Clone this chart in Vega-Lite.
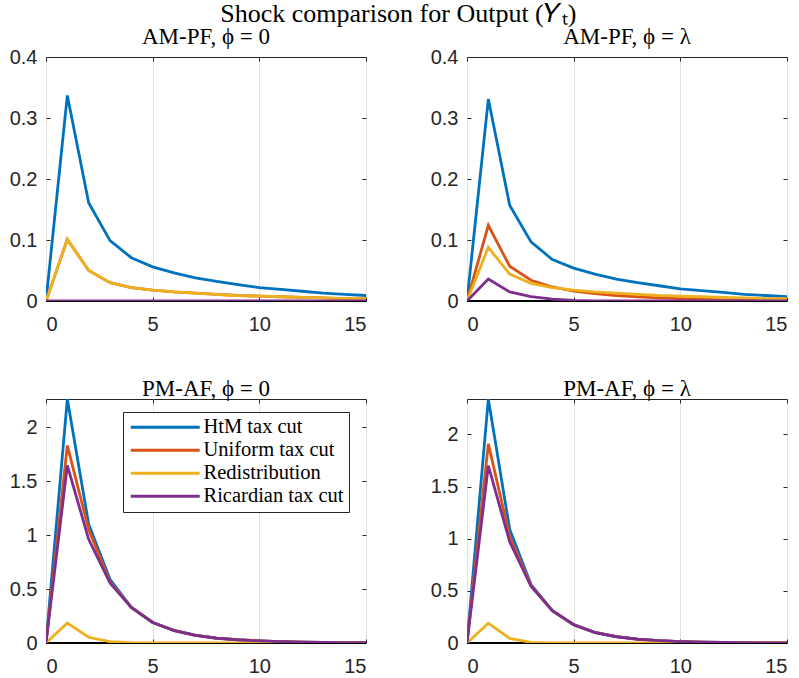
{
  "$schema": "https://vega.github.io/schema/vega-lite/v6.json",
  "background": "white",
  "padding": {"left": 8, "top": 0, "right": 0, "bottom": 0},
  "title": {"text": "Shock comparison for Output (𝑌ₜ)", "font": "Liberation Serif", "fontSize": 26, "fontWeight": "normal", "color": "#000000", "anchor": "middle", "offset": -1},
  "config": {
    "view": {"stroke": "#262626", "strokeWidth": 1},
    "axis": {"labelFont": "Liberation Sans", "labelFontSize": 20, "labelColor": "#262626", "domain": false, "ticks": true, "tickColor": "#262626", "tickSize": -4, "grid": true, "gridColor": "#e3e3e3", "gridWidth": 1, "title": null},
    "axisX": {"labelPadding": 17},
    "axisY": {"labelPadding": 13},
    "title": {"font": "Liberation Serif", "fontSize": 23, "fontWeight": "normal", "color": "#000000", "anchor": "middle", "offset": -2}
  },
  "datasets": {
    "d": [
      {"p":"A","t":0,"HtM tax cut":0,"Uniform tax cut":0,"Redistribution":0,"Ricardian tax cut":0},
      {"p":"A","t":1,"HtM tax cut":0.337,"Uniform tax cut":0.101,"Redistribution":0.101,"Ricardian tax cut":0},
      {"p":"A","t":2,"HtM tax cut":0.161,"Uniform tax cut":0.050,"Redistribution":0.050,"Ricardian tax cut":0},
      {"p":"A","t":3,"HtM tax cut":0.099,"Uniform tax cut":0.030,"Redistribution":0.030,"Ricardian tax cut":0},
      {"p":"A","t":4,"HtM tax cut":0.071,"Uniform tax cut":0.022,"Redistribution":0.022,"Ricardian tax cut":0},
      {"p":"A","t":5,"HtM tax cut":0.056,"Uniform tax cut":0.018,"Redistribution":0.018,"Ricardian tax cut":0},
      {"p":"A","t":6,"HtM tax cut":0.046,"Uniform tax cut":0.015,"Redistribution":0.015,"Ricardian tax cut":0},
      {"p":"A","t":7,"HtM tax cut":0.038,"Uniform tax cut":0.013,"Redistribution":0.013,"Ricardian tax cut":0},
      {"p":"A","t":8,"HtM tax cut":0.032,"Uniform tax cut":0.011,"Redistribution":0.011,"Ricardian tax cut":0},
      {"p":"A","t":9,"HtM tax cut":0.027,"Uniform tax cut":0.009,"Redistribution":0.009,"Ricardian tax cut":0},
      {"p":"A","t":10,"HtM tax cut":0.022,"Uniform tax cut":0.008,"Redistribution":0.008,"Ricardian tax cut":0},
      {"p":"A","t":11,"HtM tax cut":0.019,"Uniform tax cut":0.007,"Redistribution":0.007,"Ricardian tax cut":0},
      {"p":"A","t":12,"HtM tax cut":0.016,"Uniform tax cut":0.006,"Redistribution":0.006,"Ricardian tax cut":0},
      {"p":"A","t":13,"HtM tax cut":0.013,"Uniform tax cut":0.005,"Redistribution":0.005,"Ricardian tax cut":0},
      {"p":"A","t":14,"HtM tax cut":0.011,"Uniform tax cut":0.004,"Redistribution":0.004,"Ricardian tax cut":0},
      {"p":"A","t":15,"HtM tax cut":0.009,"Uniform tax cut":0.004,"Redistribution":0.004,"Ricardian tax cut":0},
      {"p":"B","t":0,"HtM tax cut":0,"Uniform tax cut":0,"Redistribution":0,"Ricardian tax cut":0},
      {"p":"B","t":1,"HtM tax cut":0.331,"Uniform tax cut":0.124,"Redistribution":0.088,"Ricardian tax cut":0.036},
      {"p":"B","t":2,"HtM tax cut":0.157,"Uniform tax cut":0.057,"Redistribution":0.044,"Ricardian tax cut":0.015},
      {"p":"B","t":3,"HtM tax cut":0.097,"Uniform tax cut":0.034,"Redistribution":0.029,"Ricardian tax cut":0.007},
      {"p":"B","t":4,"HtM tax cut":0.068,"Uniform tax cut":0.023,"Redistribution":0.022,"Ricardian tax cut":0.003},
      {"p":"B","t":5,"HtM tax cut":0.054,"Uniform tax cut":0.016,"Redistribution":0.018,"Ricardian tax cut":0.001},
      {"p":"B","t":6,"HtM tax cut":0.044,"Uniform tax cut":0.012,"Redistribution":0.015,"Ricardian tax cut":0},
      {"p":"B","t":7,"HtM tax cut":0.036,"Uniform tax cut":0.009,"Redistribution":0.013,"Ricardian tax cut":0},
      {"p":"B","t":8,"HtM tax cut":0.030,"Uniform tax cut":0.007,"Redistribution":0.011,"Ricardian tax cut":0},
      {"p":"B","t":9,"HtM tax cut":0.025,"Uniform tax cut":0.005,"Redistribution":0.009,"Ricardian tax cut":0},
      {"p":"B","t":10,"HtM tax cut":0.020,"Uniform tax cut":0.004,"Redistribution":0.008,"Ricardian tax cut":0},
      {"p":"B","t":11,"HtM tax cut":0.017,"Uniform tax cut":0.003,"Redistribution":0.007,"Ricardian tax cut":0},
      {"p":"B","t":12,"HtM tax cut":0.014,"Uniform tax cut":0.002,"Redistribution":0.006,"Ricardian tax cut":0},
      {"p":"B","t":13,"HtM tax cut":0.011,"Uniform tax cut":0.002,"Redistribution":0.005,"Ricardian tax cut":0},
      {"p":"B","t":14,"HtM tax cut":0.009,"Uniform tax cut":0.001,"Redistribution":0.004,"Ricardian tax cut":0},
      {"p":"B","t":15,"HtM tax cut":0.007,"Uniform tax cut":0.001,"Redistribution":0.004,"Ricardian tax cut":0},
      {"p":"C","t":0,"HtM tax cut":0,"Uniform tax cut":0,"Redistribution":0,"Ricardian tax cut":0},
      {"p":"C","t":1,"HtM tax cut":2.26,"Uniform tax cut":1.83,"Redistribution":0.185,"Ricardian tax cut":1.645},
      {"p":"C","t":2,"HtM tax cut":1.10,"Uniform tax cut":1.05,"Redistribution":0.053,"Ricardian tax cut":0.96},
      {"p":"C","t":3,"HtM tax cut":0.59,"Uniform tax cut":0.565,"Redistribution":0.012,"Ricardian tax cut":0.555},
      {"p":"C","t":4,"HtM tax cut":0.33,"Uniform tax cut":0.33,"Redistribution":0.003,"Ricardian tax cut":0.33},
      {"p":"C","t":5,"HtM tax cut":0.19,"Uniform tax cut":0.19,"Redistribution":0.001,"Ricardian tax cut":0.19},
      {"p":"C","t":6,"HtM tax cut":0.117,"Uniform tax cut":0.116,"Redistribution":0,"Ricardian tax cut":0.115},
      {"p":"C","t":7,"HtM tax cut":0.072,"Uniform tax cut":0.071,"Redistribution":0,"Ricardian tax cut":0.070},
      {"p":"C","t":8,"HtM tax cut":0.046,"Uniform tax cut":0.045,"Redistribution":0,"Ricardian tax cut":0.044},
      {"p":"C","t":9,"HtM tax cut":0.030,"Uniform tax cut":0.030,"Redistribution":0,"Ricardian tax cut":0.029},
      {"p":"C","t":10,"HtM tax cut":0.020,"Uniform tax cut":0.020,"Redistribution":0,"Ricardian tax cut":0.019},
      {"p":"C","t":11,"HtM tax cut":0.013,"Uniform tax cut":0.013,"Redistribution":0,"Ricardian tax cut":0.013},
      {"p":"C","t":12,"HtM tax cut":0.009,"Uniform tax cut":0.009,"Redistribution":0,"Ricardian tax cut":0.009},
      {"p":"C","t":13,"HtM tax cut":0.006,"Uniform tax cut":0.006,"Redistribution":0,"Ricardian tax cut":0.006},
      {"p":"C","t":14,"HtM tax cut":0.004,"Uniform tax cut":0.004,"Redistribution":0,"Ricardian tax cut":0.004},
      {"p":"C","t":15,"HtM tax cut":0.003,"Uniform tax cut":0.003,"Redistribution":0,"Ricardian tax cut":0.003},
      {"p":"D","t":0,"HtM tax cut":0,"Uniform tax cut":0,"Redistribution":0,"Ricardian tax cut":0},
      {"p":"D","t":1,"HtM tax cut":2.34,"Uniform tax cut":1.91,"Redistribution":0.19,"Ricardian tax cut":1.70},
      {"p":"D","t":2,"HtM tax cut":1.09,"Uniform tax cut":1.02,"Redistribution":0.045,"Ricardian tax cut":0.97},
      {"p":"D","t":3,"HtM tax cut":0.56,"Uniform tax cut":0.55,"Redistribution":0.006,"Ricardian tax cut":0.544},
      {"p":"D","t":4,"HtM tax cut":0.31,"Uniform tax cut":0.31,"Redistribution":0.001,"Ricardian tax cut":0.31},
      {"p":"D","t":5,"HtM tax cut":0.176,"Uniform tax cut":0.176,"Redistribution":0,"Ricardian tax cut":0.175},
      {"p":"D","t":6,"HtM tax cut":0.102,"Uniform tax cut":0.101,"Redistribution":0,"Ricardian tax cut":0.100},
      {"p":"D","t":7,"HtM tax cut":0.062,"Uniform tax cut":0.061,"Redistribution":0,"Ricardian tax cut":0.060},
      {"p":"D","t":8,"HtM tax cut":0.037,"Uniform tax cut":0.037,"Redistribution":0,"Ricardian tax cut":0.036},
      {"p":"D","t":9,"HtM tax cut":0.022,"Uniform tax cut":0.022,"Redistribution":0,"Ricardian tax cut":0.022},
      {"p":"D","t":10,"HtM tax cut":0.014,"Uniform tax cut":0.014,"Redistribution":0,"Ricardian tax cut":0.013},
      {"p":"D","t":11,"HtM tax cut":0.009,"Uniform tax cut":0.009,"Redistribution":0,"Ricardian tax cut":0.008},
      {"p":"D","t":12,"HtM tax cut":0.006,"Uniform tax cut":0.006,"Redistribution":0,"Ricardian tax cut":0.005},
      {"p":"D","t":13,"HtM tax cut":0.004,"Uniform tax cut":0.004,"Redistribution":0,"Ricardian tax cut":0.003},
      {"p":"D","t":14,"HtM tax cut":0.003,"Uniform tax cut":0.003,"Redistribution":0,"Ricardian tax cut":0.002},
      {"p":"D","t":15,"HtM tax cut":0.002,"Uniform tax cut":0.002,"Redistribution":0,"Ricardian tax cut":0.002}
    ]
  },
  "columns": 2,
  "spacing": {"row": 42, "column": 62},
  "resolve": {"scale": {"y": "independent", "color": "independent"}},
  "concat": [
    {
      "title": "AM-PF, ϕ = 0",
      "width": 320, "height": 244,
      "data": {"name": "d"},
      "transform": [{"filter": "datum.p === 'A'"}, {"fold": ["HtM tax cut", "Uniform tax cut", "Redistribution", "Ricardian tax cut"], "as": ["s", "v"]}],
      "resolve": {"axis": {"x": "independent", "y": "independent"}},
      "layer": [
        {"mark": {"type": "rule", "color": "#000000", "strokeWidth": 1}, "encoding": {"y": {"datum": 0, "type": "quantitative", "axis": null}}},
        {"mark": {"type": "line", "strokeWidth": 2.8, "clip": true},
         "encoding": {
           "x": {"field": "t", "type": "quantitative", "scale": {"domain": [0, 15], "nice": false}, "axis": {"values": [0, 5, 10, 15], "orient": "bottom"}},
           "y": {"field": "v", "type": "quantitative", "scale": {"domain": [0, 0.4], "nice": false}, "axis": {"values": [0, 0.1, 0.2, 0.3, 0.4], "format": "~g", "orient": "left"}},
           "color": {"field": "s", "type": "nominal", "scale": {"domain": ["HtM tax cut", "Uniform tax cut", "Redistribution", "Ricardian tax cut"], "range": ["#0072BD", "#D95319", "#EDB120", "#7E2F8E"]}, "legend": null}
         }},
        {"mark": {"type": "line", "opacity": 0},
         "encoding": {
           "x": {"field": "t", "type": "quantitative", "scale": {"domain": [0, 15], "nice": false}, "axis": {"values": [0, 5, 10, 15], "orient": "top", "labels": false, "grid": false, "minExtent": 0}},
           "y": {"field": "v", "type": "quantitative", "scale": {"domain": [0, 0.4], "nice": false}, "axis": {"values": [0, 0.1, 0.2, 0.3, 0.4], "orient": "right", "labels": false, "grid": false, "minExtent": 0}}
         }}
      ]
    },
    {
      "title": "AM-PF, ϕ = λ",
      "width": 320, "height": 244,
      "data": {"name": "d"},
      "transform": [{"filter": "datum.p === 'B'"}, {"fold": ["HtM tax cut", "Uniform tax cut", "Redistribution", "Ricardian tax cut"], "as": ["s", "v"]}],
      "resolve": {"axis": {"x": "independent", "y": "independent"}},
      "layer": [
        {"mark": {"type": "rule", "color": "#000000", "strokeWidth": 1}, "encoding": {"y": {"datum": 0, "type": "quantitative", "axis": null}}},
        {"mark": {"type": "line", "strokeWidth": 2.8, "clip": true},
         "encoding": {
           "x": {"field": "t", "type": "quantitative", "scale": {"domain": [0, 15], "nice": false}, "axis": {"values": [0, 5, 10, 15], "orient": "bottom"}},
           "y": {"field": "v", "type": "quantitative", "scale": {"domain": [0, 0.4], "nice": false}, "axis": {"values": [0, 0.1, 0.2, 0.3, 0.4], "format": "~g", "orient": "left"}},
           "color": {"field": "s", "type": "nominal", "scale": {"domain": ["HtM tax cut", "Uniform tax cut", "Redistribution", "Ricardian tax cut"], "range": ["#0072BD", "#D95319", "#EDB120", "#7E2F8E"]}, "legend": null}
         }},
        {"mark": {"type": "line", "opacity": 0},
         "encoding": {
           "x": {"field": "t", "type": "quantitative", "scale": {"domain": [0, 15], "nice": false}, "axis": {"values": [0, 5, 10, 15], "orient": "top", "labels": false, "grid": false, "minExtent": 0}},
           "y": {"field": "v", "type": "quantitative", "scale": {"domain": [0, 0.4], "nice": false}, "axis": {"values": [0, 0.1, 0.2, 0.3, 0.4], "orient": "right", "labels": false, "grid": false, "minExtent": 0}}
         }}
      ]
    },
    {
      "title": "PM-AF, ϕ = 0",
      "width": 320, "height": 244,
      "data": {"name": "d"},
      "transform": [{"filter": "datum.p === 'C'"}, {"fold": ["HtM tax cut", "Uniform tax cut", "Redistribution", "Ricardian tax cut"], "as": ["s", "v"]}],
      "resolve": {"axis": {"x": "independent", "y": "independent"}},
      "layer": [
        {"mark": {"type": "rule", "color": "#000000", "strokeWidth": 1}, "encoding": {"y": {"datum": 0, "type": "quantitative", "axis": null}}},
        {"mark": {"type": "line", "strokeWidth": 2.8, "clip": true},
         "encoding": {
           "x": {"field": "t", "type": "quantitative", "scale": {"domain": [0, 15], "nice": false}, "axis": {"values": [0, 5, 10, 15], "orient": "bottom"}},
           "y": {"field": "v", "type": "quantitative", "scale": {"domain": [0, 2.26], "nice": false}, "axis": {"values": [0, 0.5, 1, 1.5, 2], "format": "~g", "orient": "left"}},
           "color": {"field": "s", "type": "nominal", "scale": {"domain": ["HtM tax cut", "Uniform tax cut", "Redistribution", "Ricardian tax cut"], "range": ["#0072BD", "#D95319", "#EDB120", "#7E2F8E"]},
             "legend": {"orient": "none", "legendX": 77, "legendY": 13, "title": null, "symbolType": "M-5,0H5", "symbolSize": 190, "symbolStrokeWidth": 3, "symbolOffset": 27, "labelOffset": 28, "labelFont": "Liberation Serif", "labelFontSize": 20.5, "labelColor": "#000000", "strokeColor": "#262626", "fillColor": "#ffffff", "padding": 5, "rowPadding": 2}}
         }},
        {"mark": {"type": "line", "opacity": 0},
         "encoding": {
           "x": {"field": "t", "type": "quantitative", "scale": {"domain": [0, 15], "nice": false}, "axis": {"values": [0, 5, 10, 15], "orient": "top", "labels": false, "grid": false, "minExtent": 0}},
           "y": {"field": "v", "type": "quantitative", "scale": {"domain": [0, 2.26], "nice": false}, "axis": {"values": [0, 0.5, 1, 1.5, 2], "orient": "right", "labels": false, "grid": false, "minExtent": 0}}
         }}
      ]
    },
    {
      "title": "PM-AF, ϕ = λ",
      "width": 320, "height": 244,
      "data": {"name": "d"},
      "transform": [{"filter": "datum.p === 'D'"}, {"fold": ["HtM tax cut", "Uniform tax cut", "Redistribution", "Ricardian tax cut"], "as": ["s", "v"]}],
      "resolve": {"axis": {"x": "independent", "y": "independent"}},
      "layer": [
        {"mark": {"type": "rule", "color": "#000000", "strokeWidth": 1}, "encoding": {"y": {"datum": 0, "type": "quantitative", "axis": null}}},
        {"mark": {"type": "line", "strokeWidth": 2.8, "clip": true},
         "encoding": {
           "x": {"field": "t", "type": "quantitative", "scale": {"domain": [0, 15], "nice": false}, "axis": {"values": [0, 5, 10, 15], "orient": "bottom"}},
           "y": {"field": "v", "type": "quantitative", "scale": {"domain": [0, 2.34], "nice": false}, "axis": {"values": [0, 0.5, 1, 1.5, 2], "format": "~g", "orient": "left"}},
           "color": {"field": "s", "type": "nominal", "scale": {"domain": ["HtM tax cut", "Uniform tax cut", "Redistribution", "Ricardian tax cut"], "range": ["#0072BD", "#D95319", "#EDB120", "#7E2F8E"]}, "legend": null}
         }},
        {"mark": {"type": "line", "opacity": 0},
         "encoding": {
           "x": {"field": "t", "type": "quantitative", "scale": {"domain": [0, 15], "nice": false}, "axis": {"values": [0, 5, 10, 15], "orient": "top", "labels": false, "grid": false, "minExtent": 0}},
           "y": {"field": "v", "type": "quantitative", "scale": {"domain": [0, 2.34], "nice": false}, "axis": {"values": [0, 0.5, 1, 1.5, 2], "orient": "right", "labels": false, "grid": false, "minExtent": 0}}
         }}
      ]
    }
  ]
}
